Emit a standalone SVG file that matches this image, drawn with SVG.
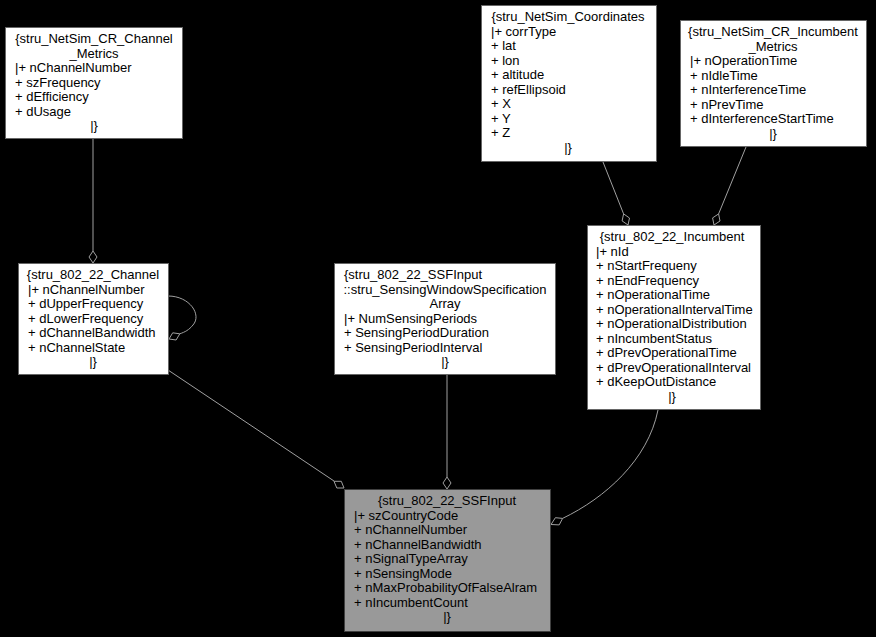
<svg xmlns="http://www.w3.org/2000/svg" width="876" height="637" viewBox="0 0 876 637">
<style>
.bg{fill:#000}
.box{fill:#fff;stroke:#666;stroke-width:1}
.sel{fill:#999;stroke:#404040;stroke-width:1}
text{font-family:"Liberation Sans",Arial,sans-serif;font-size:13px;fill:#000}
.c{text-anchor:middle}
.edge{fill:none;stroke:#a0a0a0;stroke-width:1}
.dia{fill:none;stroke:#a0a0a0;stroke-width:1}
</style>
<rect class="bg" x="0" y="0" width="876" height="637"/>
<g id="edges">
<path class="edge" d="M93,139 L93,251"/>
<polygon class="dia" points="93,263 89,257 93,251 97,257"/>
<path class="edge" d="M168,370 L334,481"/>
<polygon class="dia" points="344,488 336.8,488 334,481.3 341.3,481.3"/>
<path class="edge" d="M447,375 L447,477"/>
<polygon class="dia" points="447,489 443,483 447,477 451,483"/>
<path class="edge" d="M658,410 C648,460 605,498 562.6,518.4"/>
<polygon class="dia" points="551,524.5 555.4,517.7 562.6,518.4 559.2,524.9"/>
<path class="edge" d="M603,162 L623.6,213.9"/>
<polygon class="dia" points="628,225 622.1,220.9 623.6,213.9 629.5,218"/>
<path class="edge" d="M746,147 L718.6,213.9"/>
<polygon class="dia" points="714,225 712.6,217.9 718.6,213.9 720,221"/>
<path class="edge" d="M168,296 C190,296 202,315 193,325 C189,330 185,332 179.8,333.8"/>
<polygon class="dia" points="169,339 172.7,332.8 179.8,333.8 176.1,340"/>
</g>
<g id="node_channel_metrics">
<rect class="box" x="5.5" y="27.5" width="177" height="111"/>
<text class="c" x="94" y="43">{stru_NetSim_CR_Channel</text>
<text class="c" x="94" y="57.5">_Metrics</text>
<text x="15" y="72">|+ nChannelNumber</text>
<text x="15" y="86.5">+ szFrequency</text>
<text x="15" y="101">+ dEfficiency</text>
<text x="15" y="115.5">+ dUsage</text>
<text class="c" x="94" y="130">|}</text>
</g>
<g id="node_coordinates">
<rect class="box" x="481.5" y="5.5" width="175" height="156"/>
<text class="c" x="568" y="21">{stru_NetSim_Coordinates</text>
<text x="491" y="35.5">|+ corrType</text>
<text x="491" y="50">+ lat</text>
<text x="491" y="64.5">+ lon</text>
<text x="491" y="79">+ altitude</text>
<text x="491" y="93.5">+ refEllipsoid</text>
<text x="491" y="108">+ X</text>
<text x="491" y="122.5">+ Y</text>
<text x="491" y="137">+ Z</text>
<text class="c" x="568" y="151.5">|}</text>
</g>
<g id="node_incumbent_metrics">
<rect class="box" x="680.5" y="20.5" width="186" height="126"/>
<text class="c" x="773" y="36">{stru_NetSim_CR_Incumbent</text>
<text class="c" x="773" y="50.5">_Metrics</text>
<text x="690" y="65">|+ nOperationTime</text>
<text x="690" y="79.5">+ nIdleTime</text>
<text x="690" y="94">+ nInterferenceTime</text>
<text x="690" y="108.5">+ nPrevTime</text>
<text x="690" y="123">+ dInterferenceStartTime</text>
<text class="c" x="773" y="137.5">|}</text>
</g>
<g id="node_channel">
<rect class="box" x="18.5" y="263.5" width="150" height="111"/>
<text class="c" x="93" y="279">{stru_802_22_Channel</text>
<text x="28" y="293.5">|+ nChannelNumber</text>
<text x="28" y="308">+ dUpperFrequency</text>
<text x="28" y="322.5">+ dLowerFrequency</text>
<text x="28" y="337">+ dChannelBandwidth</text>
<text x="28" y="351.5">+ nChannelState</text>
<text class="c" x="93" y="366">|}</text>
</g>
<g id="node_sensing_window">
<rect class="box" x="334.5" y="263.5" width="221" height="111"/>
<text x="344" y="279">{stru_802_22_SSFInput</text>
<text class="c" x="445" y="293.5">::stru_SensingWindowSpecification</text>
<text class="c" x="445" y="308">Array</text>
<text x="344" y="322.5">|+ NumSensingPeriods</text>
<text x="344" y="337">+ SensingPeriodDuration</text>
<text x="344" y="351.5">+ SensingPeriodInterval</text>
<text class="c" x="445" y="366">|}</text>
</g>
<g id="node_incumbent">
<rect class="box" x="587.5" y="225.5" width="173" height="184"/>
<text class="c" x="672" y="241">{stru_802_22_Incumbent</text>
<text x="596" y="255.5">|+ nId</text>
<text x="596" y="270">+ nStartFrequeny</text>
<text x="596" y="284.5">+ nEndFrequency</text>
<text x="596" y="299">+ nOperationalTime</text>
<text x="596" y="313.5">+ nOperationalIntervalTime</text>
<text x="596" y="328">+ nOperationalDistribution</text>
<text x="596" y="342.5">+ nIncumbentStatus</text>
<text x="596" y="357">+ dPrevOperationalTime</text>
<text x="596" y="371.5">+ dPrevOperationalInterval</text>
<text x="596" y="386">+ dKeepOutDistance</text>
<text class="c" x="672" y="400.5">|}</text>
</g>
<g id="node_ssfinput">
<rect class="sel" x="344.5" y="489.5" width="206" height="142"/>
<text class="c" x="447" y="505">{stru_802_22_SSFInput</text>
<text x="354" y="519.5">|+ szCountryCode</text>
<text x="354" y="534">+ nChannelNumber</text>
<text x="354" y="548.5">+ nChannelBandwidth</text>
<text x="354" y="563">+ nSignalTypeArray</text>
<text x="354" y="577.5">+ nSensingMode</text>
<text x="354" y="592">+ nMaxProbabilityOfFalseAlram</text>
<text x="354" y="606.5">+ nIncumbentCount</text>
<text class="c" x="447" y="621">|}</text>
</g>
</svg>
